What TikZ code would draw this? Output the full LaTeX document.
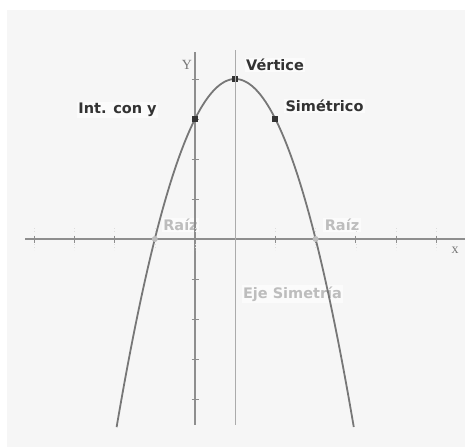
\documentclass[tikz,border=0pt]{standalone}
\usepackage{fontspec}
\setmainfont{DejaVu Sans}
\newfontfamily\axisfont{Liberation Serif}
\definecolor{bgcol}{HTML}{F6F6F6}
\definecolor{axiscol}{HTML}{8E8E8E}
\definecolor{curvecol}{HTML}{777777}
\definecolor{darktext}{HTML}{333333}
\definecolor{lighttext}{HTML}{BDBDBD}
\definecolor{symcol}{HTML}{ABABAB}
\begin{document}
\begin{tikzpicture}[x=1pt,y=-1pt,
  lbl/.style={font=\bfseries\fontsize{14.5}{16}\selectfont, inner sep=1.5pt, fill=white!60!bgcol},
  darklbl/.style={lbl, text=darktext},
  lightlbl/.style={lbl, text=lighttext},
  axlbl/.style={font=\axisfont\fontsize{14}{15}\selectfont, text=curvecol, inner sep=0pt},
  axisline/.style={draw=axiscol, line width=1.4pt},
  tickline/.style={draw=axiscol, line width=0.8pt},
  darkpt/.style={fill=darktext, draw=none, minimum size=5.5pt, inner sep=0pt},
  lightpt/.style={fill=lighttext, draw=none, minimum size=6pt, inner sep=0pt, circle}
]
\useasboundingbox (0,0) rectangle (465,447);
\fill[white] (0,0) rectangle (465,447);
\fill[bgcol] (7,10) rectangle (465,447);

% labels (behind the curve)
\node[darklbl] (lvert) at (275,65) {Vértice};
\node[darklbl] (lyint) at (117.5,110) {Int. con y};
\node[darklbl] (lsym) at (324.5,106) {Simétrico};
\node[lightlbl] (lroot1) at (180.5,225) {Raíz};
\node[lightlbl] (lroot2) at (342,225) {Raíz};
\node[lightlbl] (leje) at (292.5,294) {Eje Simetría};

% axes
\coordinate (xa) at (25,239);
\coordinate (xb) at (465,239);
\coordinate (ya) at (195,52);
\coordinate (yb) at (195,425);
\draw[axisline] (xa) -- (xb);
\draw[axisline] (ya) -- (yb);
\foreach \k in {-4,...,6}{
  \draw[tickline] ({195+40.2*\k},235.5) -- ({195+40.2*\k},242.5);
  \draw[draw=axiscol!30, line width=0.5pt, dash pattern=on 1pt off 2pt] ({195+40.2*\k},228) -- ({195+40.2*\k},234);
  \draw[draw=axiscol!30, line width=0.5pt, dash pattern=on 1pt off 2pt] ({195+40.2*\k},244) -- ({195+40.2*\k},250);
}
\foreach \k in {-4,...,4}{
  \draw[tickline] (191.5,{239-40*\k}) -- (198.5,{239-40*\k});
}
\node[axlbl] (ylab) at (187,65) {Y};
\node[axlbl] (xlab) at (455,250) {x};

% parabola
\draw[draw=curvecol, line width=1.8pt] plot[domain=-1.95:3.95, samples=120, smooth]
  ({195+40.2*\x},{239-40*(4-(\x-1)*(\x-1))});

% points
\node[darkpt] (vert) at (235,79) {};
\node[darkpt] (yint) at (195,119) {};
\node[darkpt] (sym) at (275,119) {};
\node[lightpt] (root1) at (154.8,239) {};
\node[lightpt] (root2) at (315.6,239) {};

% axis of symmetry
\coordinate (sa) at (235,50);
\coordinate (sb) at (235,425);
\draw[draw=symcol, line width=0.9pt] (sa) -- (sb);
\end{tikzpicture}
\end{document}
